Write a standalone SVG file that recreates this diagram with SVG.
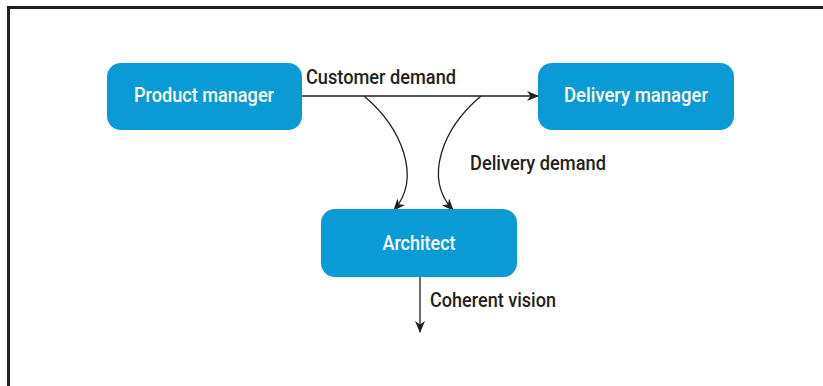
<svg xmlns="http://www.w3.org/2000/svg" width="823" height="386" viewBox="0 0 823 386">
  <style>
    .node rect { fill: #0A9AD6; }
    .node text { fill: #FFFFFF; font-family: Roboto, "Liberation Sans", sans-serif; font-weight: 500; font-size: 21px; text-anchor: middle; }
    .label { fill: #231F20; font-family: Roboto, "Liberation Sans", sans-serif; font-weight: 500; font-size: 20px; }
    .edge { fill: none; stroke: #231F20; stroke-width: 1.3; }
    .frame { fill: none; stroke: #231F20; stroke-width: 3; }
  </style>
  <defs>
    <marker id="arrow" viewBox="0 0 12 10" refX="11" refY="5" markerWidth="12" markerHeight="10" markerUnits="userSpaceOnUse" orient="auto">
      <path d="M0,0 L12,5 L0,10 L3.5,5 z" fill="#231F20"/>
    </marker>
  </defs>

  <rect width="823" height="386" fill="#FFFFFF"/>
  <!-- outer frame: only top and left edges fall inside the canvas -->
  <path class="frame" d="M8.5,390 L8.5,7.5 L830,7.5"/>

  <g id="connectors">
    <path class="edge" d="M302,96 L538,96" marker-end="url(#arrow)"/>
    <path class="edge" d="M364,96 C402,128 422,178 394,210" marker-end="url(#arrow)"/>
    <path class="edge" d="M481,96 C443,128 423,178 453,210" marker-end="url(#arrow)"/>
    <path class="edge" d="M420,277 L420,332" marker-end="url(#arrow)"/>
    <text class="label" x="306" y="84" textLength="150" lengthAdjust="spacingAndGlyphs">Customer demand</text>
    <text class="label" x="470" y="170" textLength="136" lengthAdjust="spacingAndGlyphs">Delivery demand</text>
    <text class="label" x="430" y="307" textLength="126" lengthAdjust="spacingAndGlyphs">Coherent vision</text>
  </g>

  <g id="product-manager" class="node">
    <rect x="107" y="63" width="195" height="67" rx="14"/>
    <text x="204" y="102" textLength="140" lengthAdjust="spacingAndGlyphs">Product manager</text>
  </g>

  <g id="delivery-manager" class="node">
    <rect x="538" y="63" width="196" height="67" rx="14"/>
    <text x="636" y="102" textLength="144" lengthAdjust="spacingAndGlyphs">Delivery manager</text>
  </g>

  <g id="architect" class="node">
    <rect x="321" y="209" width="196" height="68" rx="14"/>
    <text x="419" y="250" textLength="73" lengthAdjust="spacingAndGlyphs">Architect</text>
  </g>
</svg>
